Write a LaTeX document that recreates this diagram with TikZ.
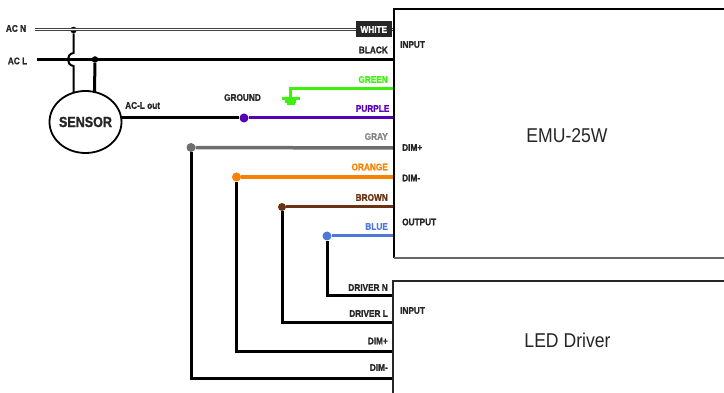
\documentclass[tikz,border=0pt]{standalone}
\usepackage{fontspec}
\usetikzlibrary{shapes.geometric}
\setmainfont{Liberation Sans}
\newfontfamily\narrowbold[FakeStretch=0.86,FakeBold=1.2]{Liberation Sans Bold}
\newfontfamily\narrowreg[FakeStretch=0.88]{Liberation Sans}
\definecolor{wgreen}{HTML}{3CF20A}
\definecolor{wpurple}{HTML}{5A00B4}
\definecolor{wgray}{HTML}{6E6E6E}
\definecolor{worange}{HTML}{F58200}
\definecolor{wbrown}{HTML}{6B3214}
\definecolor{wblue}{HTML}{4E78D8}
\definecolor{ink}{HTML}{262626}
\tikzset{
  x=1pt,y=-1pt,
  lbl/.style={inner sep=0pt,font=\narrowbold\fontsize{9.6}{10}\selectfont,text=ink},
  lblr/.style={lbl,anchor=east},
  lbll/.style={lbl,anchor=west},
  wire/.style={line width=3pt,black},
  dot/.style={circle,inner sep=0pt,minimum size=9pt,fill=#1},
  box/.style={line width=2pt,black},
  big/.style={inner sep=0pt,font=\narrowreg\fontsize{20}{22}\selectfont,text=ink},
}
\begin{document}
\begin{tikzpicture}
\useasboundingbox (0,0) rectangle (724,393);
% anchors
\coordinate (nstart) at (35,30);
\coordinate (nend) at (393,30);
\coordinate (lstart) at (37,60);
\coordinate (lend) at (393,60);
\node[dot=black,minimum size=6.5pt] (dn) at (73.5,30) {};
\node[dot=black,minimum size=6.5pt] (dl) at (95,59.5) {};
\node[draw,line width=1.8pt,ellipse,minimum width=72pt,minimum height=62pt,inner sep=0pt,font=\narrowbold\fontsize{14.6}{16}\selectfont,text=ink] (sensor) at (85.5,122) {\makebox[0pt]{SENSOR}};
\coordinate (snb) at (73.5,92);
\coordinate (slb) at (94.5,93);
\coordinate (sout) at (121,118);
\node[dot=wpurple] (dp) at (244,118) {};
\node[dot=wgray] (dg) at (191,147.5) {};
\node[dot=worange] (do) at (236.5,177) {};
\node[dot=wbrown,minimum size=8pt] (db) at (282,207) {};
\node[dot=wblue] (dbl) at (327,236) {};
% AC N double line
\draw[line width=3pt,black!75] (nstart) -- (nend);
\draw[line width=1pt,white] (nstart) -- (nend);
% AC L
\draw[wire] (lstart) -- (lend);
% jump
\draw[line width=2pt,black] (dn) -- (73.5,53) .. controls (66,54) and (66,65) .. (73.5,66) -- (snb);
\draw[wire] (dl) -- (slb);
% AC-L out
\draw[wire] (sout) -- (dp);
% coloured wires
\coordinate (pe) at (394,118);
\coordinate (ge) at (394,89);
\coordinate (gt) at (290,89);
\coordinate (gb) at (290,99);
\draw[line width=3pt,wpurple] (dp) -- (pe);
\draw[line width=3pt,wgreen] (ge) -- (gt) -- (gb);
\draw[line width=3pt,wgreen] (282,98.5) -- (300,98.5);
\draw[line width=3pt,wgreen] (285,101.5) -- (296,101.5);
\draw[line width=3pt,wgreen] (286.5,104) -- (294.5,104);
\draw[line width=3.5pt,wgray] (dg) -- (394,148);
\draw[line width=3.5pt,worange] (do) -- (394,177);
\draw[line width=3pt,wbrown] (db) -- (394,207);
\draw[line width=3pt,wblue] (dbl) -- (394,236);
% black drops
\coordinate (e1) at (393,378);
\coordinate (e2) at (393,351);
\coordinate (e3) at (393,323);
\coordinate (e4) at (393,296);
\draw[wire] (dg) |- (e1);
\draw[wire] (do) |- (e2);
\draw[wire] (db) |- (e3);
\draw[wire] (dbl) |- (e4);
% boxes
\draw[box] (394,258) -- (394,9) -- (724,9);
\draw[line width=1.2pt,black!60] (394,258) -- (724,258);
\draw[line width=1.2pt,black!85] (393,393) -- (393,281) -- (724,281);
% white tag
\node[fill=ink,lbl,text=white,minimum width=36pt,minimum height=16pt,anchor=east] (white) at (392,29.5) {WHITE};
% labels
\node[lbl] (l1) at (16,28.5) {AC N};
\node[lbl] (l2) at (17.5,61) {AC L};
\node[lbll] (l3) at (125,105.5) {AC-L out};
\node[lbl] (l4) at (242.5,97.5) {GROUND};
\node[lblr] (l5) at (388,50) {BLACK};
\node[lbll] (l6) at (400,44.5) {INPUT};
\node[lblr,text=wgreen] (l7) at (388,79.5) {GREEN};
\node[lblr,text=wpurple] (l8) at (389.5,108.5) {PURPLE};
\node[lblr,text=wgray!85] (l9) at (388,136.5) {GRAY};
\node[lblr,text=worange] (l10) at (388,167) {ORANGE};
\node[lblr,text=wbrown] (l11) at (388,197.5) {BROWN};
\node[lblr,text=wblue] (l12) at (388,226.5) {BLUE};
\node[lbll] (l13) at (402,147.5) {DIM+};
\node[lbll] (l14) at (402,178) {DIM-};
\node[lbll] (l15) at (402,222) {OUTPUT};
\node[lblr] (l16) at (388,287.5) {DRIVER N};
\node[lblr] (l17) at (388,313.5) {DRIVER L};
\node[lbll] (l18) at (400,310.5) {INPUT};
\node[lblr] (l19) at (388,341) {DIM+};
\node[lblr] (l20) at (388,367.5) {DIM-};
\node[big] (emu) at (567,136) {EMU-25W};
\node[big] (led) at (567.5,340) {LED Driver};
\end{tikzpicture}
\end{document}
